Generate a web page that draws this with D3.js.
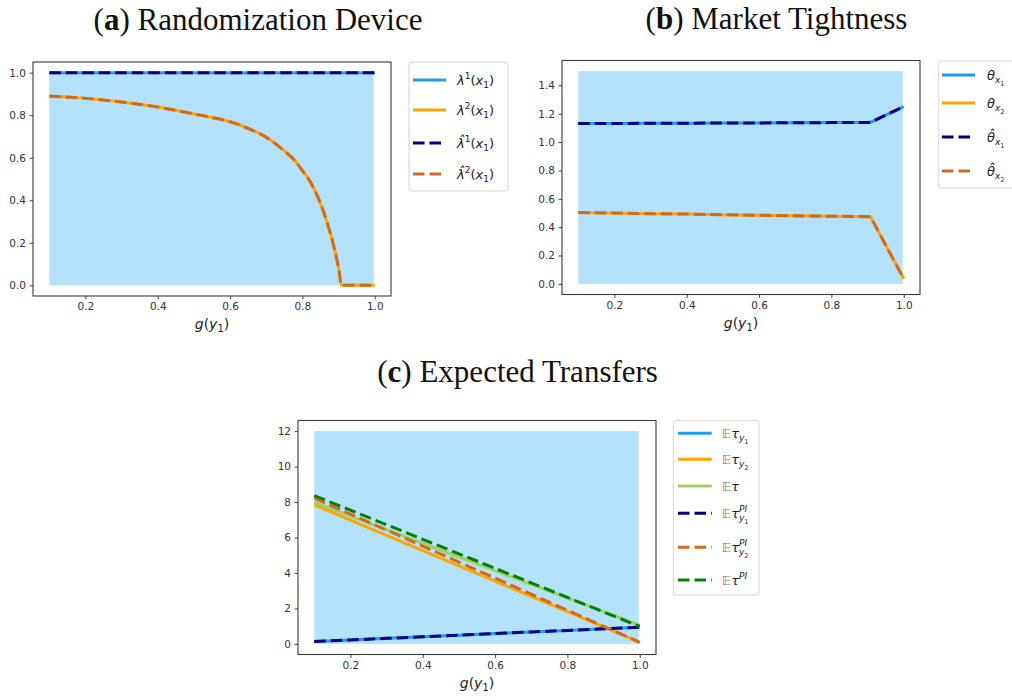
<!DOCTYPE html>
<html><head><meta charset="utf-8">
<script src="https://cdnjs.cloudflare.com/ajax/libs/d3/7.8.5/d3.min.js"></script>
<style>body{margin:0;background:#fff} svg{display:block}</style>
</head><body>
<svg id="fig" width="1012" height="700"></svg>
<script>
// ---------------- data ----------------
// (a) Randomization Device
const gA = [0.1,0.2,0.3,0.4,0.5,0.55,0.6,0.65,0.7,0.75,0.78,0.8,0.82,0.846,0.869,0.887,0.901,0.908,1.0];
const lambda1 = [1,1,1,1,1,1,1,1,1,1,1,1,1,1,1,1,1,1,1];
const lambda2 = [0.890,0.879,0.862,0.838,0.806,0.789,0.769,0.738,0.696,0.632,0.585,0.539,0.492,0.402,0.292,0.182,0.072,0.0,0.0];
const lambda1Hat = lambda1.slice();
const lambda2Hat = lambda2.slice();
// (b) Market Tightness
const gB = [0.1,0.2,0.3,0.4,0.5,0.6,0.7,0.8,0.9,0.908,1.0];
const thetaX1 = [1.130,1.131,1.132,1.133,1.134,1.135,1.136,1.137,1.138,1.139,1.250];
const thetaX2 = [0.503,0.499,0.495,0.492,0.488,0.484,0.480,0.477,0.474,0.474,0.036];
const thetaX1Hat = thetaX1.slice();
const thetaX2Hat = thetaX2.slice();
// (c) Expected Transfers
const gC = [0.1,0.2,0.3,0.4,0.5,0.6,0.7,0.8,0.9,1.0];
const ETy1   = [0.13,0.22,0.31,0.40,0.49,0.58,0.67,0.76,0.85,0.94];
const ETy2   = [7.84,6.98,6.12,5.26,4.40,3.54,2.68,1.82,0.96,0.09];
const ET     = [7.98,7.21,6.44,5.67,4.90,4.13,3.36,2.59,1.82,1.04];
const ETy1PI = ETy1.slice();
const ETy2PI = [8.22,7.32,6.42,5.51,4.61,3.71,2.80,1.90,0.99,0.09];
const ETPI   = [8.36,7.54,6.72,5.90,5.08,4.26,3.44,2.62,1.80,0.98];
// ticks and shaded region
const xTicks = [0.2,0.4,0.6,0.8,1.0];
const yTicksA = [0.0,0.2,0.4,0.6,0.8,1.0];
const yTicksB = [0.0,0.2,0.4,0.6,0.8,1.0,1.2,1.4];
const yTicksC = [0,2,4,6,8,10,12];
const shadeX = [0.1,0.997];
const shadeTopA = 1.0, shadeTopB = 1.5, shadeTopC = 12;

// ---------------- drawing ----------------
const svg = d3.select('#fig');
const C = {blue:'#1e9cf0', orange:'#ffa500', lgreen:'#9fd062', navy:'#000080', choc:'#d2691e', green:'#008000'};
const DASH = '11.5,5';

function panel(cfg){
  const g = svg.append('g');
  const x = d3.scaleLinear().domain([0.1-0.045,1.0+0.045]).range([cfg.left, cfg.left+358]);
  const span = cfg.yMax - cfg.yMin, m = span*0.05;
  const y = d3.scaleLinear().domain([cfg.yMin-m, cfg.yMax+m]).range([cfg.top+234, cfg.top]);
  g.append('rect')
    .attr('x', x(shadeX[0])).attr('y', y(cfg.shadeTop))
    .attr('width', x(shadeX[1])-x(shadeX[0])).attr('height', y(0)-y(cfg.shadeTop))
    .attr('fill', '#b4e1fb');
  const line = d3.line().x(d=>x(d[0])).y(d=>y(d[1])).curve(cfg.curve || d3.curveLinear);
  cfg.series.forEach(s=>{
    g.append('path').datum(cfg.xs.map((v,i)=>[v,s.v[i]]))
      .attr('d', line).attr('fill','none').attr('stroke', s.color)
      .attr('stroke-width', 3).attr('stroke-dasharray', s.dash ? DASH : null)
      .attr('stroke-linecap', 'butt').attr('stroke-linejoin','round');
  });
  const ax = g.append('g').attr('transform', `translate(0,${cfg.top+234})`)
    .call(d3.axisBottom(x).tickValues(xTicks).tickFormat(d3.format('.1f')).tickSize(3.5).tickPadding(3.5));
  const ay = g.append('g').attr('transform', `translate(${cfg.left},0)`)
    .call(d3.axisLeft(y).tickValues(cfg.yTicks).tickFormat(cfg.fmt).tickSize(3.5).tickPadding(3.5));
  [ax, ay].forEach(a=>{
    a.select('.domain').remove();
    a.selectAll('line').attr('stroke','#333').attr('stroke-width',0.9);
    a.selectAll('text').attr('fill','#333').style('font-family','DejaVu Sans').style('font-size','10.5px');
  });
  g.append('rect').attr('x', cfg.left).attr('y', cfg.top).attr('width',358).attr('height',234)
    .attr('fill','none').attr('stroke','#3a3a3a').attr('stroke-width',1.1);
  const xl = g.append('text').attr('x', cfg.left+179).attr('y', cfg.top+267)
    .attr('text-anchor','middle').style('font-family','DejaVu Sans').style('font-size','14px').attr('fill','#222');
  xl.append('tspan').text('g').style('font-style','italic');
  xl.append('tspan').text('(');
  xl.append('tspan').text('y').style('font-style','italic');
  xl.append('tspan').text('1').style('font-size','10px').attr('dy',3);
  xl.append('tspan').text(')').attr('dy',-3);
  const t = g.append('text').attr('x', cfg.tx).attr('y', cfg.ty).attr('text-anchor','middle')
    .style('font-family','Liberation Serif').style('font-size','31px').attr('fill','#111');
  t.append('tspan').text('(');
  t.append('tspan').text(cfg.letter).style('font-weight','bold');
  t.append('tspan').text(') ' + cfg.title);
}

function richText(g, xPos, yPos, parts){
  const tx = g.append('text').attr('x', xPos).attr('y', yPos)
    .style('font-family','DejaVu Sans').style('font-size','13px').attr('fill','#222');
  let cur = 0; const sizes = {0:13, 1:9, 2:6.5};
  const offs = {'0':0, 'sup':-5.5, 'sub':3.5, 'subsub':6};
  const lv = {'0':0,'sup':1,'sub':1,'subsub':2};
  parts.forEach(p=>{
    const pos = p.pos || '0';
    const target = offs[pos];
    const ts = tx.append('tspan').text(p.t).attr('dy', target-cur)
      .style('font-size', sizes[lv[pos]]+'px');
    if (p.it) ts.style('font-style','italic');
    if (p.back) ts.attr('dx', -p.back());
    if (p.fill) ts.attr('fill', p.fill);
    cur = target;
    p._node = ts.node();
  });
  return tx;
}

function legend(box, lx0, lx1, textX, entries){
  const g = svg.append('g');
  g.append('rect').attr('x',box[0]).attr('y',box[1]).attr('width',box[2]).attr('height',box[3])
    .attr('rx',3).attr('fill','#fff').attr('stroke','#d4d4d4').attr('stroke-width',1);
  entries.forEach(e=>{
    g.append('line').attr('x1',lx0).attr('x2',lx1).attr('y1',e.y).attr('y2',e.y)
      .attr('stroke',e.color).attr('stroke-width',3).attr('stroke-dasharray', e.dash?DASH:null);
    richText(g, textX, e.y+4.5, e.parts);
  });
}

panel({left:33, top:62, yMin:0, yMax:1.0, yTicks:yTicksA, fmt:d3.format('.1f'), shadeTop:shadeTopA,
  xs:gA, curve:d3.curveMonotoneX, tx:258, ty:29.5, letter:'a', title:'Randomization Device',
  series:[{v:lambda1,color:C.blue},{v:lambda2,color:C.orange},{v:lambda1Hat,color:C.navy,dash:1},{v:lambda2Hat,color:C.choc,dash:1}]});
panel({left:562, top:60.5, yMin:0, yMax:1.5, yTicks:yTicksB, fmt:d3.format('.1f'), shadeTop:shadeTopB,
  xs:gB, tx:776.5, ty:29, letter:'b', title:'Market Tightness',
  series:[{v:thetaX1,color:C.blue},{v:thetaX2,color:C.orange},{v:thetaX1Hat,color:C.navy,dash:1},{v:thetaX2Hat,color:C.choc,dash:1}]});
panel({left:298, top:420.5, yMin:0, yMax:12, yTicks:yTicksC, fmt:d3.format('d'), shadeTop:shadeTopC,
  xs:gC, tx:517.6, ty:382, letter:'c', title:'Expected Transfers',
  series:[{v:ETy1,color:C.blue},{v:ETy2,color:C.orange},{v:ET,color:C.lgreen},
          {v:ETy1PI,color:C.navy,dash:1},{v:ETy2PI,color:C.choc,dash:1},{v:ETPI,color:C.green,dash:1}]});

const lam = (hat, n)=>[{t: hat?'λ\u0302':'λ', it:1},{t:String(n),pos:'sup'},{t:'(',pos:'0'},{t:'x',it:1},{t:'1',pos:'sub'},{t:')',pos:'0'}];
legend([409,62,99,129], 413, 446, 457, [
  {y:80, color:C.blue, parts:lam(0,1)},
  {y:110, color:C.orange, parts:lam(0,2)},
  {y:143, color:C.navy, dash:1, parts:lam(1,1)},
  {y:174, color:C.choc, dash:1, parts:lam(1,2)}]);

const th = (hat, n)=>[{t: hat?'θ\u0302':'θ', it:1},{t:'x',it:1,pos:'sub'},{t:String(n),pos:'subsub'}];
legend([938.7,61,90,127], 942, 975, 987, [
  {y:75, color:C.blue, parts:th(0,1)},
  {y:103, color:C.orange, parts:th(0,2)},
  {y:137, color:C.navy, dash:1, parts:th(1,1)},
  {y:171, color:C.choc, dash:1, parts:th(1,2)}]);

function et(sub, pi){
  const p = [{t:'𝔼',fill:'#777'},{t:'τ',it:1}];
  if (pi){
    const sp = {t:'PI',it:1,pos:'sup'}; p.push(sp);
    if (sub){
      p.push({t:'y',it:1,pos:'sub',back:()=>sp._node.getComputedTextLength()});
      p.push({t:String(sub),pos:'subsub'});
    }
  } else if (sub){
    p.push({t:'y',it:1,pos:'sub'}); p.push({t:String(sub),pos:'subsub'});
  }
  return p;
}
legend([673.3,420.7,85.7,174.3], 678, 711.7, 721.7, [
  {y:433.3, color:C.blue, parts:et(1,0)},
  {y:459.3, color:C.orange, parts:et(2,0)},
  {y:486, color:C.lgreen, parts:et(0,0)},
  {y:513.3, color:C.navy, dash:1, parts:et(1,1)},
  {y:547.3, color:C.choc, dash:1, parts:et(2,1)},
  {y:580, color:C.green, dash:1, parts:et(0,1)}]);
</script>
</body></html>
